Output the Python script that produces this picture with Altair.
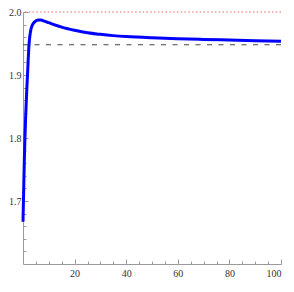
import altair as alt
import pandas as pd

# curve values
xs = [0, 0.25, 0.5, 0.75, 1, 1.25, 1.5, 1.75, 2, 2.25, 2.5, 3, 3.5, 4, 5, 6, 7, 8,
      10, 12, 15, 20, 25, 30, 35, 40, 50, 60, 70, 80, 90, 100]
ys = [1.667, 1.715, 1.762, 1.80, 1.83, 1.856, 1.88, 1.90, 1.923, 1.943, 1.956, 1.971,
      1.978, 1.982, 1.986, 1.9875, 1.9872, 1.986, 1.983, 1.980, 1.976, 1.971, 1.967,
      1.9645, 1.9625, 1.961, 1.959, 1.9576, 1.9565, 1.9555, 1.9545, 1.9537]

dashed_level = [1.948]
limit_level = [2.0]

x_labels = [20, 40, 60, 80, 100]
y_labels = [1.7, 1.8, 1.9, 2.0]
x_ticks = [5, 10, 15, 20, 25, 30, 35, 40, 45, 50, 55, 60, 65, 70, 75, 80, 85, 90, 95, 100]
y_ticks = [1.62, 1.64, 1.66, 1.68, 1.70, 1.72, 1.74, 1.76, 1.78, 1.80, 1.82, 1.84,
           1.86, 1.88, 1.90, 1.92, 1.94, 1.96, 1.98, 2.00]

W, H = 258, 252
FONT = "Liberation Serif"
AXC = "#9a9a9a"

df = pd.DataFrame({"x": xs, "y": ys})
xscale = alt.Scale(domain=[0, 100], nice=False, zero=False)
yscale = alt.Scale(domain=[1.6, 2.0], nice=False, zero=False)

main_x = alt.Axis(values=x_labels, format="d", ticks=False, grid=False, title=None,
                  orient="bottom", labelPadding=4, domainColor=AXC, labelFont=FONT,
                  labelFontSize=10, labelColor="#333333")
main_y = alt.Axis(values=y_labels, format=".1f", ticks=False, grid=False, title=None,
                  orient="left", labelPadding=2, domainColor=AXC, labelFont=FONT,
                  labelFontSize=10, labelColor="#333333")

curve = alt.Chart(df).mark_line(color="#0000ff", strokeWidth=3, interpolate="monotone").encode(
    x=alt.X("x:Q", scale=xscale, axis=main_x),
    y=alt.Y("y:Q", scale=yscale, axis=main_y),
)

tick_x = alt.Axis(values=x_ticks, labels=False, domain=False, grid=False, title=None,
                  orient="top", offset=-H, tickColor=AXC, tickWidth=1,
                  tickSize={"condition": {"test": "datum.value % 20 === 0", "value": 5}, "value": 3})
tick_y = alt.Axis(values=y_ticks, labels=False, domain=False, grid=False, title=None,
                  orient="right", offset=-W, tickColor=AXC, tickWidth=1,
                  tickSize={"condition": {"test": "abs(datum.value * 10 - round(datum.value * 10)) < 0.001",
                                          "value": 5}, "value": 3})

ticks_layer = alt.Chart(df).mark_line(opacity=0).encode(
    x=alt.X("x:Q", scale=xscale, axis=tick_x),
    y=alt.Y("y:Q", scale=yscale, axis=tick_y),
)

dashed = alt.Chart(pd.DataFrame({"y": dashed_level})).mark_rule(
    color="#444444", strokeWidth=1, strokeDash=[5, 6.5]
).encode(y=alt.Y("y:Q", scale=yscale, axis=None))

limit = alt.Chart(pd.DataFrame({"y": limit_level})).mark_rule(
    color="#e06666", strokeWidth=1, strokeDash=[1.5, 2.3]
).encode(y=alt.Y("y:Q", scale=yscale, axis=None))

chart = alt.layer(limit, dashed, ticks_layer, curve).resolve_axis(
    x="independent", y="independent"
).properties(
    width=W, height=H,
    autosize=alt.AutoSizeParams(type="none"),
    padding={"left": 15, "top": 4, "right": 5, "bottom": 16},
).configure_view(stroke=None)

chart.save("out.html", embed_options={"renderer": "svg", "actions": False})
